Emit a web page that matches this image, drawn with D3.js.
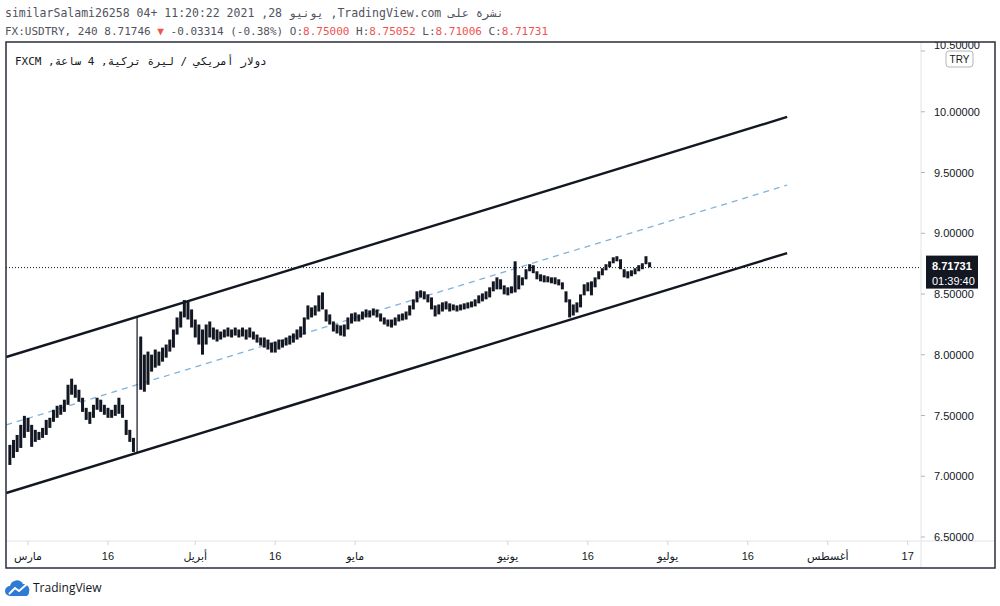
<!DOCTYPE html>
<html>
<head>
<meta charset="utf-8">
<script src="https://cdn.jsdelivr.net/npm/d3@7"></script>
<style>
  body { margin: 0; background: #fff; }
  svg { display: block; }
  text { white-space: pre; }
</style>
</head>
<body>
<div id="chart"></div>
<script>
var headerLine = "نشرة على TradingView.com, يونيو 28, 2021 11:20:22 +04 similarSalami26258";
var symbolLabel = "FX:USDTRY, 240 8.71746 ";
var changeLabel = " -0.03314 (-0.38%)";
var ohlcNames = ["O", "H", "L", "C"];
var ohlcValues = ["8.75000", "8.75052", "8.71006", "8.71731"];
var legendLine = "دولار أمريكي / ليرة تركية, 4 ساعة, FXCM";

var priceTicks = [6.5, 7, 7.5, 8, 8.5, 9, 9.5, 10, 10.5];
var timeTickDates = ["2021-03-01", "2021-03-16", "2021-04-01", "2021-04-16", "2021-05-03",
                     "2021-06-01", "2021-06-16", "2021-07-01", "2021-07-16", "2021-08-02", "2021-08-17"];
var timeTickLabels = ["مارس", "16", "أبريل", "16", "مايو", "يونيو", "16", "يوليو", "16", "أغسطس", "17"];

var lastPrice = 8.71731;
var countdown = "01:39:40";
var currencyLabel = "TRY";

// half-day bars starting 24 Feb 12:00, trading days only
var firstBar = "2021-02-24T12:00";
var barHours = 12;
var barHigh = [7.258,7.299,7.340,7.423,7.497,7.481,7.423,7.382,7.365,7.398,
  7.464,7.481,7.547,7.580,7.588,7.630,7.753,7.803,7.753,7.712,
  7.646,7.563,7.530,7.588,7.646,7.630,7.588,7.563,7.547,7.588,
  7.646,7.588,7.464,7.382,7.316,8.315,8.150,8.001,8.026,8.001,
  8.043,8.026,8.059,8.084,8.125,8.208,8.307,8.356,8.450,8.439,
  8.373,8.290,8.249,8.208,8.249,8.274,8.224,8.208,8.191,8.208,
  8.224,8.208,8.224,8.208,8.224,8.208,8.224,8.191,8.166,8.142,
  8.142,8.125,8.100,8.109,8.125,8.125,8.142,8.158,8.175,8.208,
  8.233,8.307,8.406,8.390,8.406,8.489,8.513,8.373,8.332,8.274,
  8.249,8.241,8.249,8.307,8.340,8.348,8.332,8.356,8.373,8.365,
  8.381,8.373,8.340,8.307,8.290,8.290,8.307,8.332,8.340,8.356,
  8.406,8.456,8.522,8.530,8.522,8.497,8.472,8.406,8.414,8.431,
  8.439,8.423,8.414,8.406,8.414,8.423,8.431,8.439,8.456,8.489,
  8.505,8.522,8.555,8.604,8.637,8.621,8.571,8.555,8.563,8.769,
  8.654,8.637,8.704,8.745,8.737,8.687,8.662,8.654,8.646,8.637,
  8.637,8.621,8.596,8.522,8.456,8.414,8.431,8.497,8.580,8.596,
  8.604,8.637,8.687,8.712,8.745,8.769,8.802,8.811,8.786,8.704,
  8.687,8.695,8.712,8.737,8.753,8.811,8.761];
var barLow = [7.093,7.151,7.200,7.233,7.316,7.365,7.242,7.283,7.299,7.316,
  7.340,7.398,7.448,7.481,7.506,7.530,7.588,7.671,7.646,7.613,
  7.530,7.464,7.431,7.481,7.547,7.530,7.506,7.481,7.481,7.497,
  7.514,7.481,7.340,7.283,7.200,7.192,7.712,7.696,7.753,7.861,
  7.894,7.910,7.943,7.976,8.026,8.059,8.166,8.224,8.307,8.290,
  8.224,8.142,8.084,8.001,8.084,8.142,8.125,8.109,8.125,8.142,
  8.150,8.142,8.158,8.142,8.150,8.125,8.142,8.125,8.100,8.076,
  8.059,8.043,8.018,8.018,8.043,8.059,8.076,8.084,8.100,8.125,
  8.142,8.166,8.290,8.307,8.323,8.356,8.373,8.274,8.249,8.191,
  8.175,8.158,8.150,8.208,8.257,8.274,8.274,8.290,8.307,8.307,
  8.323,8.307,8.274,8.249,8.233,8.224,8.241,8.274,8.282,8.290,
  8.323,8.373,8.431,8.472,8.456,8.431,8.373,8.315,8.332,8.356,
  8.373,8.356,8.365,8.356,8.365,8.373,8.381,8.390,8.398,8.423,
  8.439,8.456,8.472,8.522,8.538,8.538,8.497,8.489,8.505,8.513,
  8.538,8.571,8.621,8.687,8.671,8.621,8.604,8.596,8.596,8.588,
  8.580,8.571,8.538,8.431,8.307,8.323,8.348,8.390,8.489,8.522,
  8.489,8.555,8.621,8.654,8.695,8.720,8.753,8.769,8.704,8.637,
  8.629,8.646,8.662,8.687,8.704,8.745,8.720];

// drawn parallel channel: [start, end]
var channelTimes = ["2021-02-24T00:00", "2021-07-23T10:00"];
var channelUpper = [7.981, 9.957];
var channelMiddle = [7.422, 9.397];
var channelLower = [6.862, 8.837];

// ---- layout ----
var totalWidth = 1000, totalHeight = 606;
var plot = {left: 6, top: 42, right: 921, bottom: 541};
var frame = {left: 6, top: 42, right: 995, bottom: 568};
var ink = "#131722", red = "#ef5350";
var mono = "'DejaVu Sans Mono', monospace";
var sans = "'Liberation Sans', 'DejaVu Sans', sans-serif";

// trading-day calendar (weekdays only), day 0 = 1 Mar 2021
var calendar = d3.timeDay.range(new Date(2021, 1, 15), new Date(2021, 8, 1))
    .filter(function(d){ return d.getDay() % 6 !== 0; });
var dayZero = calendar.findIndex(function(d){ return +d === +new Date(2021, 2, 1); });
function tradingDay(str) {
    var t = d3.isoParse(str.length > 10 ? str : str + "T00:00");
    t = new Date(t.getTime() + t.getTimezoneOffset() * 60000);
    var day = d3.timeDay.floor(t);
    var i = calendar.findIndex(function(d){ return +d === +day; });
    return i - dayZero + (t - day) / 86400000;
}

var firstBarDay = tradingDay(firstBar);
var bars = barHigh.map(function(h, i){
    return {day: firstBarDay + i * barHours / 24, high: h, low: barLow[i]};
});

var x_scale = d3.scaleLinear().domain([-3.03, 122.83]).range([plot.left, plot.right]);
var y_scale = d3.scaleLinear().domain([6.5, 10.5]).range([537, 51]);

var svg = d3.select("#chart").append("svg")
    .attr("width", totalWidth)
    .attr("height", totalHeight);

svg.append("defs").append("clipPath").attr("id", "plotclip")
    .append("rect")
    .attr("x", plot.left).attr("y", plot.top)
    .attr("width", plot.right - plot.left).attr("height", plot.bottom - plot.top);

// header
svg.append("text")
    .attr("x", 5).attr("y", 17)
    .attr("direction", "rtl")
    .attr("text-anchor", "end")
    .style("font-family", mono).style("font-size", "11.5px")
    .attr("fill", "#50535e")
    .text(headerLine);

var line2 = svg.append("text")
    .attr("x", 5).attr("y", 35)
    .style("font-family", mono).style("font-size", "11px")
    .attr("fill", "#50535e");
line2.append("tspan").text(symbolLabel);
line2.append("tspan").attr("fill", red).text("▼");
line2.append("tspan").text(changeLabel);
ohlcNames.forEach(function(n, i){
    line2.append("tspan").text(" " + n + ":");
    line2.append("tspan").attr("fill", red).text(ohlcValues[i]);
});

// separators
svg.append("line")
    .attr("x1", plot.right).attr("x2", plot.right)
    .attr("y1", frame.top).attr("y2", frame.bottom)
    .attr("stroke", "#e0e3eb");
svg.append("line")
    .attr("x1", frame.left).attr("x2", frame.right)
    .attr("y1", plot.bottom).attr("y2", plot.bottom)
    .attr("stroke", "#e0e3eb");

// price axis (top label is partly cut by the frame, as in the snapshot)
svg.append("defs").append("clipPath").attr("id", "axisclip")
    .append("rect")
    .attr("x", plot.right).attr("y", frame.top)
    .attr("width", frame.right - plot.right).attr("height", plot.bottom - frame.top);
var yAxis = svg.append("g").attr("clip-path", "url(#axisclip)");
yAxis.selectAll("line").data(priceTicks).enter().append("line")
    .attr("x1", plot.right).attr("x2", plot.right + 4)
    .attr("y1", function(d){ return y_scale(d); })
    .attr("y2", function(d){ return y_scale(d); })
    .attr("stroke", "#b2b5be");
yAxis.selectAll("text").data(priceTicks).enter().append("text")
    .attr("x", 934)
    .attr("y", function(d){ return y_scale(d) + (d > 10.4 ? -2 : 4); })
    .style("font-family", sans).style("font-size", "11px")
    .attr("fill", ink)
    .text(function(d){ return d.toFixed(5); });

// time axis
var timeTicks = timeTickDates.map(function(d, i){ return {day: tradingDay(d), label: timeTickLabels[i]}; });
var xAxis = svg.append("g");
xAxis.selectAll("line").data(timeTicks).enter().append("line")
    .attr("x1", function(d){ return x_scale(d.day); })
    .attr("x2", function(d){ return x_scale(d.day); })
    .attr("y1", plot.bottom).attr("y2", plot.bottom + 4)
    .attr("stroke", "#d1d4dc");
xAxis.selectAll("text").data(timeTicks).enter().append("text")
    .attr("x", function(d){ return x_scale(d.day); })
    .attr("y", 560)
    .attr("text-anchor", "middle")
    .style("font-family", sans).style("font-size", "11px")
    .attr("fill", ink)
    .text(function(d){ return d.label; });

// plot contents
var body = svg.append("g").attr("clip-path", "url(#plotclip)");

var lastY = y_scale(lastPrice);
body.append("line")
    .attr("x1", plot.left).attr("x2", plot.right)
    .attr("y1", lastY).attr("y2", lastY)
    .attr("stroke", "#131722").attr("stroke-width", 1)
    .attr("stroke-dasharray", "1,2");

var chX = channelTimes.map(tradingDay);
function channelLine(vals) {
    return d3.line()
        .x(function(d, i){ return x_scale(chX[i]); })
        .y(function(d){ return y_scale(d); })(vals);
}
body.append("path").attr("d", channelLine(channelMiddle))
    .attr("stroke", "#7fb3dc").attr("stroke-width", 1.3)
    .attr("stroke-dasharray", "6,5").attr("fill", "none");
[channelUpper, channelLower].forEach(function(c){
    body.append("path").attr("d", channelLine(c))
        .attr("stroke", "#131722").attr("stroke-width", 2.4)
        .attr("fill", "none");
});

// long-range bars show as a bare wick
body.append("g").selectAll("rect")
    .data(bars)
    .enter()
    .append("rect")
    .attr("x", function(d){ return x_scale(d.day) - (d.high - d.low > 0.5 ? 0.6 : 1.5); })
    .attr("width", function(d){ return d.high - d.low > 0.5 ? 1.2 : 3; })
    .attr("y", function(d){ return y_scale(d.high); })
    .attr("height", function(d){ return Math.max(1, y_scale(d.low) - y_scale(d.high)); })
    .attr("fill", "#131722");

// legend
svg.append("text")
    .attr("x", 15).attr("y", 65)
    .attr("direction", "rtl")
    .attr("text-anchor", "end")
    .style("font-family", mono).style("font-size", "11px")
    .attr("fill", ink)
    .text(legendLine);

// currency badge
svg.append("rect")
    .attr("x", 946).attr("y", 51).attr("width", 27).attr("height", 16)
    .attr("rx", 3).attr("fill", "#fff").attr("stroke", "#b2b5be");
svg.append("text")
    .attr("x", 959.5).attr("y", 63)
    .attr("text-anchor", "middle")
    .style("font-family", sans).style("font-size", "10px")
    .attr("fill", ink)
    .text(currencyLabel);

// last price badge
svg.append("rect")
    .attr("x", 926).attr("y", lastY - 12).attr("width", 52).attr("height", 33)
    .attr("fill", "#131722");
svg.append("text")
    .attr("x", 932).attr("y", lastY + 2)
    .style("font-family", sans).style("font-size", "11px").style("font-weight", "bold")
    .attr("fill", "#fff")
    .text(lastPrice.toFixed(5));
svg.append("text")
    .attr("x", 932).attr("y", lastY + 17)
    .style("font-family", sans).style("font-size", "11px")
    .attr("fill", "#fff")
    .text(countdown);

// frame
svg.append("rect")
    .attr("x", frame.left).attr("y", frame.top)
    .attr("width", frame.right - frame.left).attr("height", frame.bottom - frame.top)
    .attr("fill", "none").attr("stroke", "#2a2e39").attr("stroke-width", 1.5);

// logo
var logo = svg.append("g");
logo.append("path")
    .attr("d", "M10,596 a5,5 0 0 1 0,-10 a7,7 0 0 1 13,-2 a6,6 0 0 1 6,8 a4,4 0 0 1 -2,4 z")
    .attr("fill", "#2e7bd6");
logo.append("path")
    .attr("d", "M9,594 L15,588 L19,591 L27,584")
    .attr("stroke", "#fff").attr("stroke-width", 2).attr("fill", "none");
logo.append("text")
    .attr("x", 33).attr("y", 592)
    .style("font-family", "'Open Sans', sans-serif").style("font-size", "12px")
    .attr("fill", ink)
    .text("TradingView");
</script>
</body>
</html>
